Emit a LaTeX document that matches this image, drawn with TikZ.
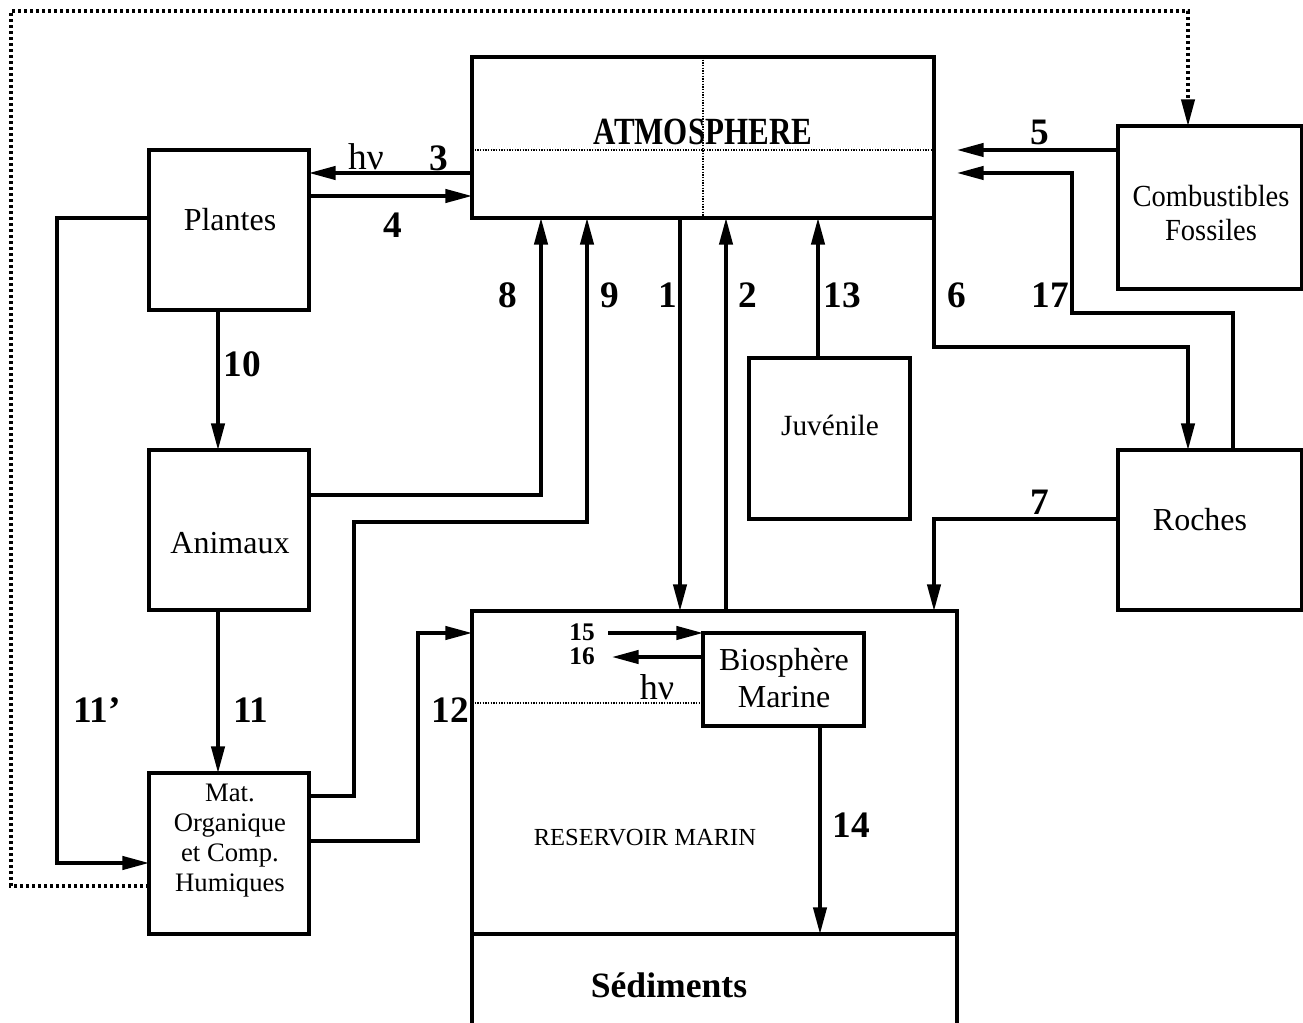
\documentclass[tikz,border=0pt]{standalone}
\usepackage{fontspec}
\setmainfont{Liberation Serif}
\usetikzlibrary{arrows.meta,fit}
\begin{document}
\begin{tikzpicture}[x=0.75pt,y=-0.75pt,
  box/.style={draw, line width=2.3pt, inner sep=0pt, outer sep=0pt},
  flow/.style={line width=2.5pt, -{Triangle[length=20pt,width=10pt]}},
  wall/.style={line width=2.3pt},
  dots/.style={line width=2.4pt, dash pattern=on 2.2pt off 2.3pt},
  finedots/.style={line width=1.3pt, dash pattern=on 1.1pt off 0.9pt},
  num/.style={font=\fontsize{28}{30}\selectfont\bfseries, inner sep=0pt},
  smallnum/.style={font=\fontsize{19}{20}\selectfont\bfseries, inner sep=0pt},
  txt/.style={font=\fontsize{24}{28}\selectfont, inner sep=0pt, align=center},
  hnu/.style={font=\fontsize{28}{30}\selectfont, inner sep=0pt},
]
\useasboundingbox (0,0) rectangle (1303,1023);

% boxes
\node[box, fit={(472,57) (934,218)}] (atm) {};
\node[box, fit={(149,150) (309,310)}] (plantes) {};
\node[box, fit={(149,450) (309,610)}] (animaux) {};
\node[box, fit={(149,773) (309,934)}] (mat) {};
\node[box, fit={(749,358) (910,519)}] (juv) {};
\node[box, fit={(1118,450) (1302,610)}] (roches) {};
\node[box, fit={(1118,126) (1302,289)}] (comb) {};
\node[box, fit={(472,611) (957,934)}] (res) {};
\node[box, fit={(703,633) (864,726)}] (bio) {};
\draw[wall] (res.south west) -- (472,1030);
\draw[wall] (res.south east) -- (957,1030);

% inner dotted lines
\draw[finedots] (atm.north) -- (atm.south);
\draw[finedots] (atm.west |- 0,150) -- (atm.east |- 0,150);
\draw[finedots] (res.west |- 0,703) -- (bio.west |- 0,703);

% texts
\node[inner sep=0pt, font=\fontsize{28}{30}\selectfont\bfseries] (tatm) at (703,132) {\scalebox{0.83}[1.03]{ATMOSPHERE}};
\node[txt] (tplantes) at (230,220) {Plantes};
\node[txt] (tanimaux) at (230,543) {Animaux};
\node[txt, font=\fontsize{20}{22.5}\selectfont] (tmat) at (230,841) {Mat.\\Organique\\et Comp.\\Humiques};
\node[txt, font=\fontsize{22}{26}\selectfont] (tjuv) at (830,425) {Juvénile};
\node[txt] (troches) at (1200,520) {Roches};
\node[txt, font=\fontsize{23}{25}\selectfont] (tcomb) at (1211,213) {\scalebox{0.93}[1]{Combustibles}\\\scalebox{0.93}[1]{Fossiles}};
\node[txt, font=\fontsize{24}{28}\selectfont] (tbio) at (784,678) {Biosphère\\Marine};
\node[txt, font=\fontsize{18.4}{20}\selectfont] (tres) at (645,838) {RESERVOIR MARIN};
\node[inner sep=0pt, font=\fontsize{26.7}{30}\selectfont\bfseries] (tsed) at (669,985) {Sédiments};

% free ends
\coordinate (e5) at (957,150);
\coordinate (e17) at (957,173);
\coordinate (s15) at (608,633);
\coordinate (e16) at (612,657);

% connectors
\draw[flow] (atm.west |- 0,173) -- (plantes.east |- 0,173);
\draw[flow] (plantes.east |- 0,196) -- (atm.west |- 0,196);
\draw[flow] (comb.west |- 0,150) -- (e5);
\draw[flow] (roches.north -| 1233,0) -- (1233,313) -- (1072,313) -- (1072,173) -- (e17);
\draw[flow] (atm.south east) -- (934,347) -- (1188,347) -- (roches.north -| 1188,0);
\draw[flow] (roches.west |- 0,519) -- (934,519) -- (res.north -| 934,0);
\draw[flow] (atm.south -| 680,0) -- (res.north -| 680,0);
\draw[flow] (res.north -| 726,0) -- (atm.south -| 726,0);
\draw[flow] (juv.north -| 818,0) -- (atm.south -| 818,0);
\draw[flow] (animaux.east |- 0,495) -- (541,495) -- (atm.south -| 541,0);
\draw[flow] (mat.east |- 0,796) -- (354,796) -- (354,522) -- (587,522) -- (atm.south -| 587,0);
\draw[flow] (mat.east |- 0,841) -- (418,841) -- (418,633) -- (res.west |- 0,633);
\draw[flow] (plantes.south -| 218,0) -- (animaux.north -| 218,0);
\draw[flow] (animaux.south -| 218,0) -- (mat.north -| 218,0);
\draw[flow] (plantes.west |- 0,218) -- (57,218) -- (57,863) -- (mat.west |- 0,863);
\draw[dots, -{Triangle[length=20pt,width=10pt]}] (mat.west |- 0,886) -- (11,886) -- (11,11) -- (1188,11) -- (comb.north -| 1188,0);
\draw[flow] (s15) -- (bio.west |- 0,633);
\draw[flow] (bio.west |- 0,657) -- (e16);
\draw[flow] (bio.south -| 820,0) -- (res.south -| 820,0);

% labels
\node[hnu] (hv1) at (366,157) {hν};
\node[num] (l3) at (439,158) {3};
\node[num] (l4) at (393,225) {4};
\node[num] (l5) at (1040,132) {5};
\node[num] (l17) at (1050,295) {17};
\node[num] (l6) at (957,295) {6};
\node[num] (l7) at (1040,502) {7};
\node[num] (l1) at (668,295) {1};
\node[num] (l2) at (748,295) {2};
\node[num] (l13) at (842,295) {13};
\node[num] (l8) at (508,295) {8};
\node[num] (l9) at (610,295) {9};
\node[num] (l10) at (242,364) {10};
\node[num] (l11) at (251,710) {11};
\node[num] (l11p) at (97,710) {11’};
\node[num] (l12) at (450,710) {12};
\node[num] (l14) at (851,825) {14};
\node[smallnum] (l15) at (582,632) {15};
\node[smallnum] (l16) at (582,656) {16};
\node[hnu, font=\fontsize{27}{30}\selectfont] (hv2) at (657,687) {hν};
\end{tikzpicture}
\end{document}
